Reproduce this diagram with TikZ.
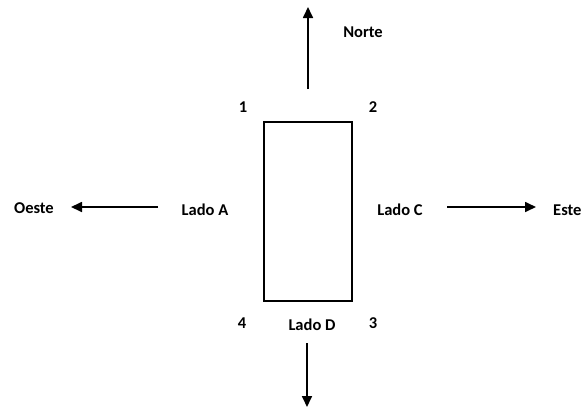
\documentclass[tikz,border=0pt]{standalone}
\usepackage{fontspec}
\setmainfont{Carlito}
\usetikzlibrary{arrows.meta}
\tikzset{
  lbl/.style={font=\bfseries\fontsize{16.5}{16.5}\selectfont, inner sep=0pt},
  dirarrow/.style={line width=1.7pt, -{Triangle[length=11pt,width=10pt]}},
  plot/.style={line width=1.2pt}
}
\begin{document}
\begin{tikzpicture}[x=1pt,y=-1pt]
\useasboundingbox (0,0) rectangle (584,408);
% the plot
\draw[plot] (264,122) rectangle (352,301);
% corner numbers
\node[lbl] (c1) at (243,107) {1};
\node[lbl] (c2) at (373,107) {2};
\node[lbl] (c3) at (373,323) {3};
\node[lbl] (c4) at (242,323) {4};
% side labels
\node[lbl] (la) at (205,210) {Lado A};
\node[lbl] (lc) at (400,210) {Lado C};
\node[lbl] (ld) at (312,325) {Lado D};
% cardinal points
\node[lbl] (norte) at (363,32) {Norte};
\node[lbl, anchor=east] (oeste) at (54,208) {Oeste};
\node[lbl, anchor=west] (este) at (553,210) {Este};
% arrow ends
\coordinate (nS) at (308,89);
\coordinate (nE) at (308,7);
\coordinate (wS) at (158,207);
\coordinate (wE) at (71,207);
\coordinate (eS) at (447,207);
\coordinate (eE) at (536,207);
\coordinate (sS) at (307,343);
\coordinate (sE) at (307,407);
\draw[dirarrow] (nS) -- (nE);
\draw[dirarrow] (wS) -- (wE);
\draw[dirarrow] (eS) -- (eE);
\draw[dirarrow] (sS) -- (sE);
\end{tikzpicture}
\end{document}
